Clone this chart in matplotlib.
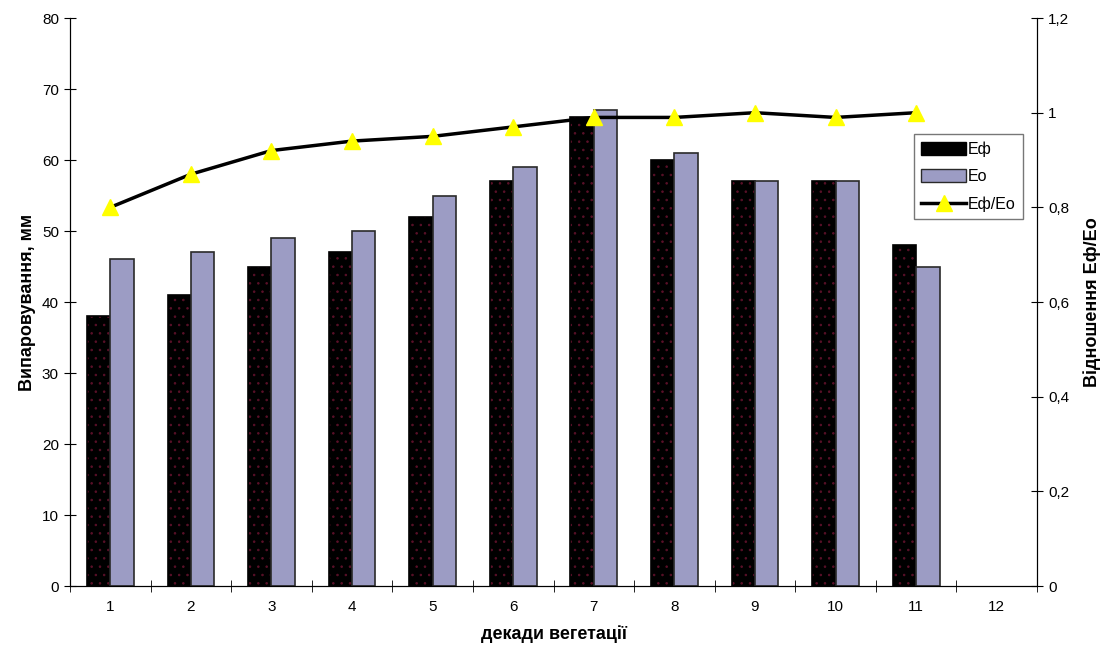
import numpy as np
import matplotlib
matplotlib.use("Agg")
from matplotlib import pyplot as plt
from matplotlib.ticker import FuncFormatter
from matplotlib.patches import Patch
from matplotlib.lines import Line2D

plt.rcParams['font.family'] = ['Liberation Sans', 'DejaVu Sans']
plt.rcParams['hatch.linewidth'] = 0.6

decades = list(range(1, 13))
e_f = [38, 41, 45, 47, 52, 57, 66, 60, 57, 57, 48]
e_o = [46, 47, 49, 50, 55, 59, 67, 61, 57, 57, 45]
ratio = [0.80, 0.87, 0.92, 0.94, 0.95, 0.97, 0.99, 0.99, 1.00, 0.99, 1.00]

fig = plt.figure(figsize=(11.11, 6.58), dpi=100)
ax = fig.add_axes([0.063, 0.1094, 0.8704, 0.8632])
ax2 = ax.twinx()

x = np.arange(1, len(e_f) + 1)
w = 0.29
# Eф - black with small dark red dots
ax.bar(x - w / 2, e_f, w, color='black', edgecolor='#5a1028', hatch='..', linewidth=0)
ax.bar(x - w / 2, e_f, w, color='none', edgecolor='black', linewidth=1.2)
ax.bar(x + w / 2, e_o, w, color='#9c9cc4', edgecolor='#2a2a2a', linewidth=1.2)

ax2.plot(x, ratio, color='black', lw=2.5, marker='^', ms=11,
         mfc='#ffff00', mec='#ffff00')

ax.set_xlim(0.5, 12.5)
ax.set_ylim(0, 80)
ax.set_yticks(range(0, 81, 10))
ax.set_xticks(decades)
ax.set_xticks(np.arange(0.5, 12.6, 1), minor=True)
ax.tick_params(axis='x', which='major', length=0, pad=10, labelsize=11)
ax.tick_params(axis='x', which='minor', direction='inout', length=9)
ax.tick_params(axis='y', direction='inout', length=9, labelsize=11)
ax.spines['top'].set_visible(False)
ax.set_ylabel('Випаровування, мм', fontsize=13, fontweight='bold')
ax.set_xlabel('декади вегетації', fontsize=13, fontweight='bold', labelpad=8)

ax2.set_ylim(0, 1.2)
ax2.set_yticks(np.arange(0, 1.21, 0.2))
ax2.yaxis.set_major_formatter(FuncFormatter(lambda v, p: ('%g' % round(v, 1)).replace('.', ',')))
ax2.tick_params(axis='y', direction='inout', length=9, labelsize=11)
ax2.spines['top'].set_visible(False)
ax2.set_ylabel('Відношення Еф/Ео', fontsize=13, fontweight='bold', labelpad=10)

handles = [
    Patch(facecolor='black', edgecolor='black', hatch='..', label='Еф'),
    Patch(facecolor='#9c9cc4', edgecolor='#2a2a2a', label='Ео'),
    Line2D([], [], color='black', lw=2.5, marker='^', ms=11,
           mfc='#ffff00', mec='#ffff00', label='Еф/Ео'),
]
leg = ax2.legend(handles=handles, loc='upper left', bbox_to_anchor=(0.873, 0.795),
                 fancybox=False, edgecolor='#555555', fontsize=11.5,
                 handlelength=2.8, handleheight=0.9, borderpad=0.45,
                 labelspacing=0.75, handletextpad=0.1, borderaxespad=0)
leg.get_frame().set_linewidth(1.0)

fig.savefig('out.png', dpi=100)
